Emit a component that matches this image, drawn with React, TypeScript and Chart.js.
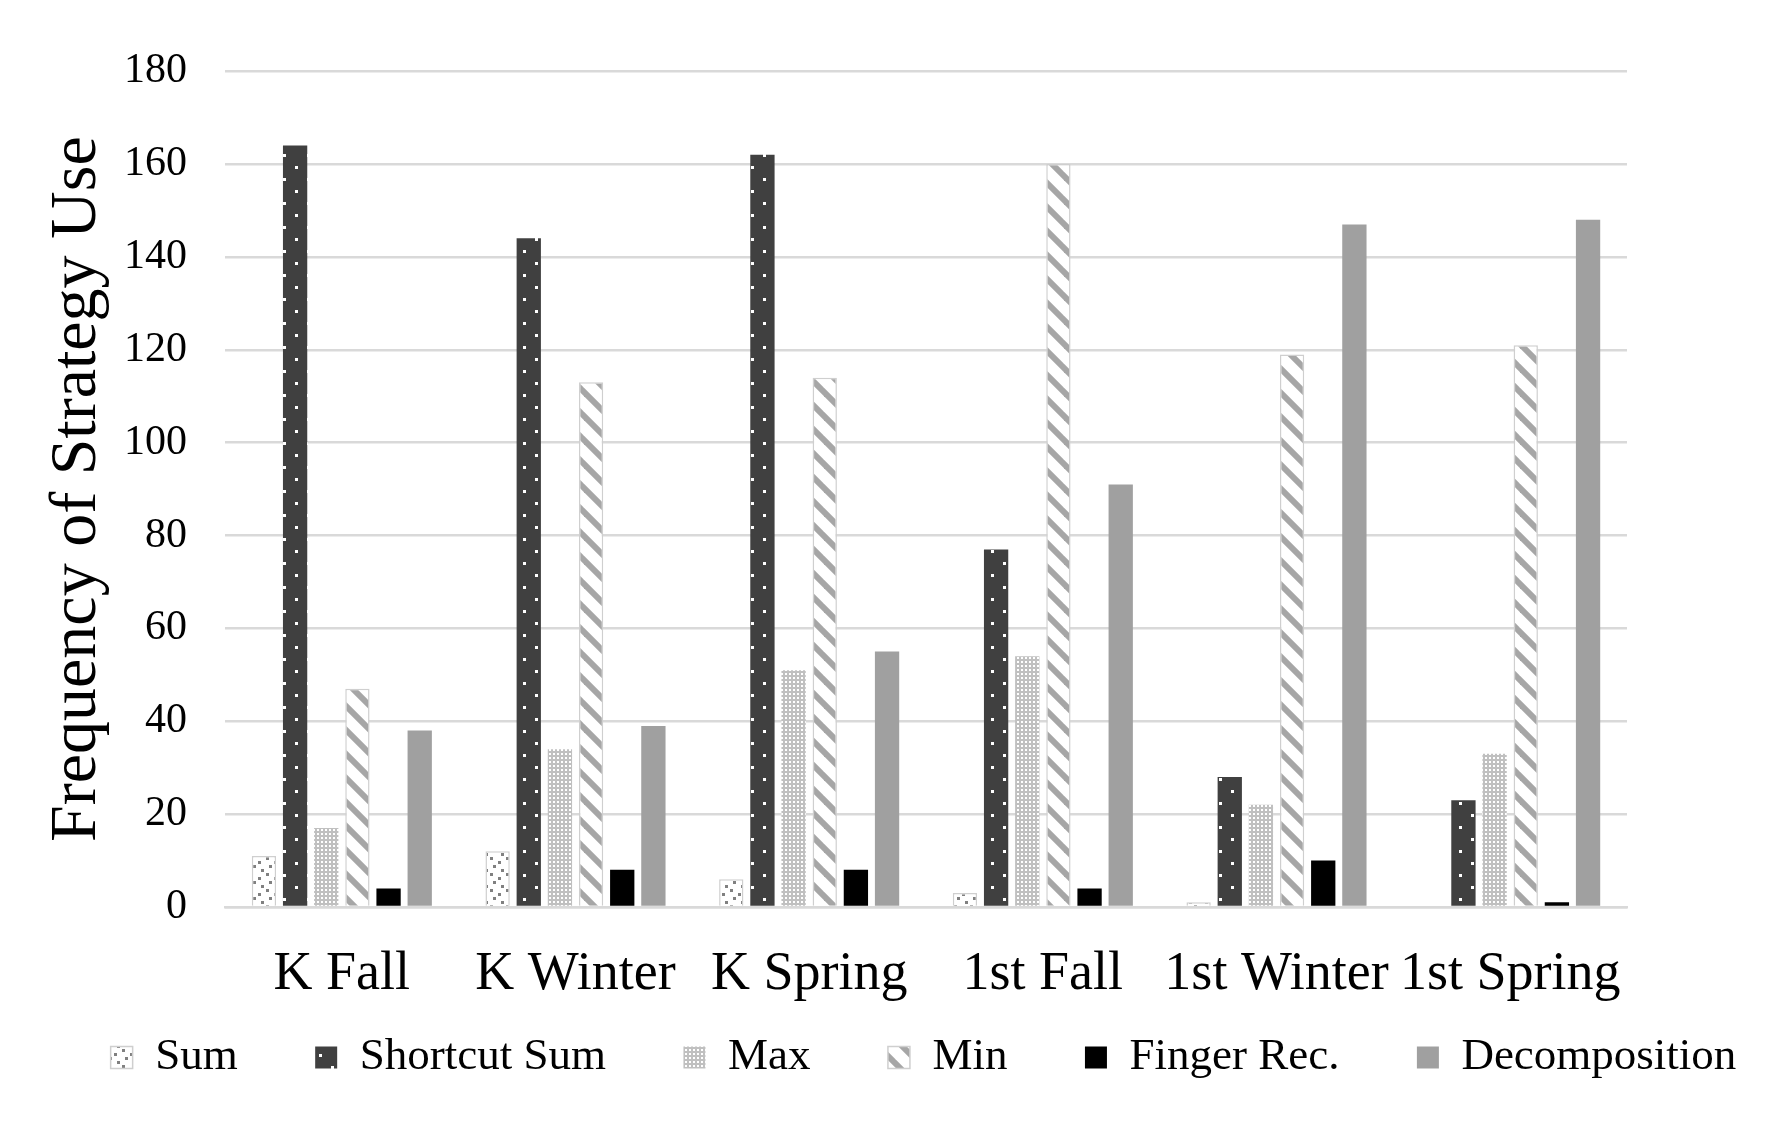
import { useEffect, useRef } from "react";
import { Chart, registerables } from "chart.js";

Chart.register(...registerables);

const categories = ["K Fall", "K Winter", "K Spring", "1st Fall", "1st Winter", "1st Spring"];
const sumValues = [11, 12, 6, 3, 1, 0];
const shortcutSumValues = [164, 144, 162, 77, 28, 23];
const maxValues = [17, 34, 51, 54, 22, 33];
const minValues = [47, 113, 114, 160, 119, 121];
const fingerRecValues = [4, 8, 8, 4, 10, 1];
const decompositionValues = [38, 39, 55, 91, 147, 148];

const FONT = "'Liberation Serif', 'Times New Roman', 'DejaVu Serif', serif";

function makePattern(w: number, h: number, draw: (g: CanvasRenderingContext2D) => void) {
  const c = document.createElement("canvas");
  c.width = w;
  c.height = h;
  const g = c.getContext("2d")!;
  draw(g);
  return g.createPattern(c, "repeat")!;
}

function buildPatterns() {
  const sum = makePattern(16, 16, (g) => {
    g.fillStyle = "#ffffff";
    g.fillRect(0, 0, 16, 16);
    g.fillStyle = "#808080";
    [[2, 1], [10, 5], [5, 9], [13, 13]].forEach(([x, y]) => g.fillRect(x, y, 3, 3));
  });
  const shortcut = makePattern(24, 24, (g) => {
    g.fillStyle = "#404040";
    g.fillRect(0, 0, 24, 24);
    g.fillStyle = "#ffffff";
    g.fillRect(11, 2, 3, 3);
    g.fillRect(0, 14, 2, 3);
    g.fillRect(23, 14, 1, 3);
  });
  const max = makePattern(4, 4, (g) => {
    g.fillStyle = "#c0c0c0";
    g.fillRect(0, 0, 4, 4);
    g.fillStyle = "#ffffff";
    g.fillRect(1, 1, 2, 2);
  });
  const min = makePattern(24, 24, (g) => {
    g.fillStyle = "#ffffff";
    g.fillRect(0, 0, 24, 24);
    g.strokeStyle = "#a6a6a6";
    g.lineWidth = 6;
    [-24, 0, 24].forEach((k) => {
      g.beginPath();
      g.moveTo(k - 4, -4);
      g.lineTo(k + 28, 28);
      g.stroke();
    });
  });
  return { sum, shortcut, max, min };
}

export default function App() {
  const ref = useRef<HTMLCanvasElement>(null);

  useEffect(() => {
    if (!ref.current) return;
    const p = buildPatterns();
    const chart = new Chart(ref.current, {
      type: "bar",
      data: {
        labels: categories,
        datasets: [
          { label: "Sum", data: sumValues, backgroundColor: p.sum, borderColor: "#cfcfcf", borderWidth: 1.5 },
          { label: "Shortcut Sum", data: shortcutSumValues, backgroundColor: p.shortcut, borderColor: "#404040", borderWidth: 0 },
          { label: "Max", data: maxValues, backgroundColor: p.max, borderColor: "#c0c0c0", borderWidth: 0 },
          { label: "Min", data: minValues, backgroundColor: p.min, borderColor: "#cfcfcf", borderWidth: 1.5 },
          { label: "Finger Rec.", data: fingerRecValues, backgroundColor: "#000000", borderColor: "#000000", borderWidth: 0 },
          { label: "Decomposition", data: decompositionValues, backgroundColor: "#a0a0a0", borderColor: "#a0a0a0", borderWidth: 0 },
        ],
      },
      options: {
        animation: false,
        responsive: true,
        maintainAspectRatio: false,
        categoryPercentage: 0.8,
        barPercentage: 0.78,
        layout: { padding: { top: 63, right: 0, bottom: 25, left: 76 } },
        plugins: {
          legend: {
            position: "bottom",
            labels: {
              boxWidth: 22,
              boxHeight: 22,
              padding: 10,
              color: "#000",
              font: { family: FONT, size: 45 },
              // trailing spaces give the wide gaps between legend entries
              generateLabels: (c) => {
                const items = Chart.defaults.plugins.legend.labels.generateLabels(c);
                return items.map((it, i) => ({
                  ...it,
                  text: i < items.length - 1 ? it.text + "      " : it.text,
                }));
              },
            },
          },
          tooltip: { enabled: false },
        },
        scales: {
          x: {
            grid: { display: false },
            border: { color: "#d9d9d9", width: 2.5 },
            ticks: {
              color: "#000",
              font: { family: FONT, size: 54 },
              padding: 27,
              maxRotation: 0,
              autoSkip: false,
            },
            afterFit: (s) => {
              s.height = 118;
            },
          },
          y: {
            min: 0,
            max: 180,
            ticks: { stepSize: 20, color: "#000", font: { family: FONT, size: 42 }, padding: 38 },
            grid: { color: "#d9d9d9", lineWidth: 2.5, drawTicks: false },
            border: { display: false },
            title: {
              display: true,
              text: "Frequency of Strategy Use",
              color: "#000",
              font: { family: FONT, size: 66, lineHeight: 1 },
              padding: { top: -39, bottom: 0 },
            },
            afterFit: (s) => {
              s.width = 141;
            },
          },
          // empty right axis keeps the plot clear of the right edge
          spacer: {
            type: "linear",
            position: "right",
            grid: { display: false },
            border: { display: false },
            ticks: { display: false },
            afterFit: (s) => {
              s.width = 136;
            },
          },
        },
      },
    });
    return () => {
      chart.destroy();
    };
  }, []);

  return (
    <div style={{ position: "relative", width: "100%", height: "1107px" }}>
      <canvas ref={ref}></canvas>
    </div>
  );
}
